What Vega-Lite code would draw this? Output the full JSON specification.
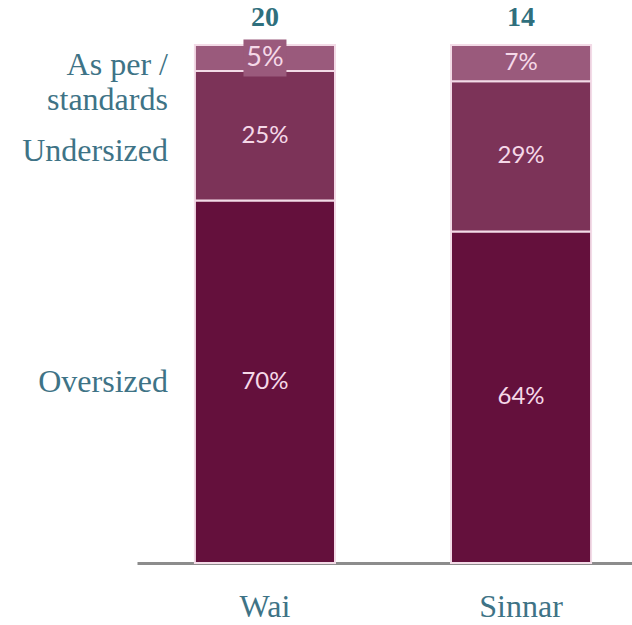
{
  "$schema": "https://vega.github.io/schema/vega-lite/v6.json",
  "autosize": {"type": "none"},
  "width": 495,
  "height": 518,
  "padding": {"left": 137, "top": 45, "right": 0, "bottom": 62},
  "background": "white",
  "config": {"view": {"stroke": null}},
  "data": {
    "values": [
      {"site": "Wai", "group": "Oversized", "rank": 1, "share": 0.70, "n": 20},
      {"site": "Wai", "group": "Undersized", "rank": 2, "share": 0.25, "n": 20},
      {"site": "Wai", "group": "As per standards", "rank": 3, "share": 0.05, "n": 20},
      {"site": "Sinnar", "group": "Oversized", "rank": 1, "share": 0.64, "n": 14},
      {"site": "Sinnar", "group": "Undersized", "rank": 2, "share": 0.29, "n": 14},
      {"site": "Sinnar", "group": "As per standards", "rank": 3, "share": 0.07, "n": 14}
    ]
  },
  "encoding": {
    "x": {
      "field": "site",
      "type": "nominal",
      "sort": ["Wai", "Sinnar"],
      "scale": {"paddingInner": 0.453, "paddingOuter": 0.193, "align": 0.586},
      "axis": {
        "title": null,
        "ticks": false,
        "labelAngle": 0,
        "domainColor": "#8c8c8c",
        "domainWidth": 3,
        "labelFont": "Liberation Serif",
        "labelFontSize": 32,
        "labelColor": "#3e7386",
        "labelPadding": 28
      }
    }
  },
  "layer": [
    {
      "mark": {"type": "bar", "stroke": "#f3dbe7", "strokeWidth": 2},
      "encoding": {
        "y": {"field": "share", "type": "quantitative", "stack": "zero", "scale": {"domain": [0, 1]}, "axis": null},
        "color": {
          "field": "group",
          "type": "nominal",
          "scale": {"domain": ["Oversized", "Undersized", "As per standards"], "range": ["#64103c", "#7c3358", "#9a5a7c"]},
          "legend": null
        },
        "order": {"field": "rank", "type": "quantitative"}
      }
    },
    {
      "mark": {"type": "point", "filled": true, "color": "#9a5a7c", "strokeWidth": 0, "shape": "M-1,-0.86L1,-0.86L1,0.86L-1,0.86Z", "size": 1849},
      "encoding": {
        "y": {"field": "share", "type": "quantitative", "stack": "zero", "bandPosition": 0.5},
        "detail": {"field": "group"},
        "order": {"field": "rank", "type": "quantitative"},
        "opacity": {"condition": {"test": "datum.site === 'Wai' && datum.group === 'As per standards'", "value": 1}, "value": 0}
      }
    },
    {
      "mark": {"type": "text", "font": "Lato", "fontSize": 24, "color": "#f5d8e8", "baseline": "middle"},
      "encoding": {
        "y": {"field": "share", "type": "quantitative", "stack": "zero", "bandPosition": 0.5},
        "detail": {"field": "group"},
        "order": {"field": "rank", "type": "quantitative"},
        "text": {"field": "share", "type": "quantitative", "format": ".0%"},
        "size": {"condition": {"test": "datum.site === 'Wai' && datum.group === 'As per standards'", "value": 27}, "value": 24}
      }
    },
    {
      "mark": {"type": "text", "font": "Liberation Serif", "fontSize": 28, "fontWeight": 600, "color": "#2f6f7d", "baseline": "middle", "dy": -27},
      "encoding": {
        "y": {"aggregate": "sum", "field": "share", "type": "quantitative"},
        "text": {"aggregate": "max", "field": "n", "type": "quantitative"}
      }
    },
    {
      "transform": [{"filter": "datum.site === 'Wai'"}],
      "mark": {"type": "text", "font": "Liberation Serif", "fontSize": 32, "color": "#3e7386", "align": "right", "baseline": "middle", "dx": -27},
      "encoding": {
        "x": {"field": "site", "type": "nominal", "sort": ["Wai", "Sinnar"], "bandPosition": 0},
        "y": {"field": "share", "type": "quantitative", "stack": "zero", "bandPosition": 0.5},
        "detail": {"field": "group"},
        "order": {"field": "rank", "type": "quantitative"},
        "text": {"condition": {"test": "datum.group === 'Oversized'", "field": "group"}, "value": ""}
      }
    },
    {
      "transform": [{"filter": "datum.site === 'Wai'"}],
      "mark": {"type": "text", "font": "Liberation Serif", "fontSize": 32, "color": "#3e7386", "align": "right", "baseline": "middle", "dx": -27, "dy": 15},
      "encoding": {
        "x": {"field": "site", "type": "nominal", "sort": ["Wai", "Sinnar"], "bandPosition": 0},
        "y": {"field": "share", "type": "quantitative", "stack": "zero", "bandPosition": 0.5},
        "detail": {"field": "group"},
        "order": {"field": "rank", "type": "quantitative"},
        "text": {"condition": {"test": "datum.group === 'Undersized'", "field": "group"}, "value": ""}
      }
    },
    {
      "transform": [{"filter": "datum.site === 'Wai'"}],
      "mark": {"type": "text", "font": "Liberation Serif", "fontSize": 32, "color": "#3e7386", "align": "right", "baseline": "middle", "dx": -27, "dy": 7, "lineBreak": "\n", "lineHeight": 35},
      "encoding": {
        "x": {"field": "site", "type": "nominal", "sort": ["Wai", "Sinnar"], "bandPosition": 0},
        "y": {"field": "share", "type": "quantitative", "stack": "zero", "bandPosition": 0.5},
        "detail": {"field": "group"},
        "order": {"field": "rank", "type": "quantitative"},
        "text": {"condition": {"test": "datum.group === 'As per standards'", "value": "As per /\nstandards"}, "value": ""}
      }
    }
  ]
}
